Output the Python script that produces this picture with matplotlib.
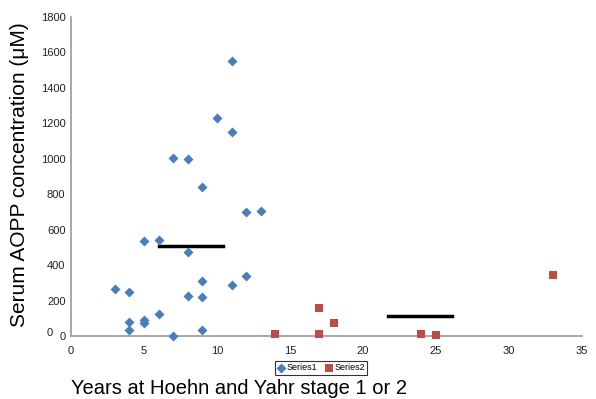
import matplotlib
matplotlib.use("Agg")
import matplotlib.pyplot as plt

plt.rcParams['font.family'] = ['Liberation Sans', 'DejaVu Sans']

# Series1 data
s1_x = [11, 10, 11, 7, 8, 9, 12, 13, 5, 6, 8, 3, 4, 9, 11, 12, 8, 9, 4, 5, 5, 6, 4, 9, 7]
s1_y = [1550, 1230, 1150, 1005, 998, 838, 698, 707, 538, 543, 474, 264, 249, 311, 287, 340, 223, 221, 79, 88, 74, 125, 32, 34, 0]
# Series2 data
s2_x = [14, 17, 17, 18, 24, 25, 33]
s2_y = [10, 158, 11, 74, 10, 4, 342]
# Mean lines (x start, x end, y)
mean1_x = [6.05, 10.4]
mean1_y = [508, 508]
mean2_x = [21.7, 26.1]
mean2_y = [113, 113]

x_ticks = [0, 5, 10, 15, 20, 25, 30, 35]
y_ticks = [0, 200, 400, 600, 800, 1000, 1200, 1400, 1600, 1800]

fig = plt.figure(figsize=(5.96, 3.99), dpi=100)
ax = fig.add_axes([71/596, 1-336/399, 511/596, 319/399])

ax.scatter(s1_x, s1_y, marker='D', s=26, color='#4a7ebb', label='Series1', zorder=3, linewidths=0)
ax.scatter(s2_x, s2_y, marker='s', s=38, color='#be4b48', label='Series2', zorder=3, linewidths=0)
ax.plot(mean1_x, mean1_y, color='black', lw=2.5, zorder=2)
ax.plot(mean2_x, mean2_y, color='black', lw=2.5, zorder=2)

ax.set_xlim(0, 35)
ax.set_ylim(0, 1800)
ax.set_xticks(x_ticks)
ax.set_yticks(y_ticks)
ax.tick_params(axis='both', length=0, labelsize=8, colors='#222222')
ax.tick_params(axis='x', pad=7)
ax.tick_params(axis='y', pad=4)
for s in ['top', 'right']:
    ax.spines[s].set_visible(False)
for s in ['left', 'bottom']:
    ax.spines[s].set_color('#999999')
    ax.spines[s].set_linewidth(1.2)
for c in ax.collections:
    c.set_clip_on(False)

fig.text(50/596, 1-333/399, '0', fontsize=8, color='#222222', ha='center', va='center')

fig.text(239/596, 1-388/399, 'Years at Hoehn and Yahr stage 1 or 2', fontsize=14.5, ha='center', va='center')
fig.text(20/596, 1-175/399, 'Serum AOPP concentration (μM)', fontsize=15, rotation=90, ha='center', va='center')

leg = fig.legend(loc='center', bbox_to_anchor=(321/596, 1-368/399), ncol=2, fontsize=6.5,
                 frameon=True, fancybox=False, edgecolor='black', handletextpad=0.1,
                 columnspacing=0.8, borderpad=0.25, handlelength=1.0, markerscale=1.0)
leg.get_frame().set_linewidth(0.8)

fig.savefig('out.png', dpi=100)
